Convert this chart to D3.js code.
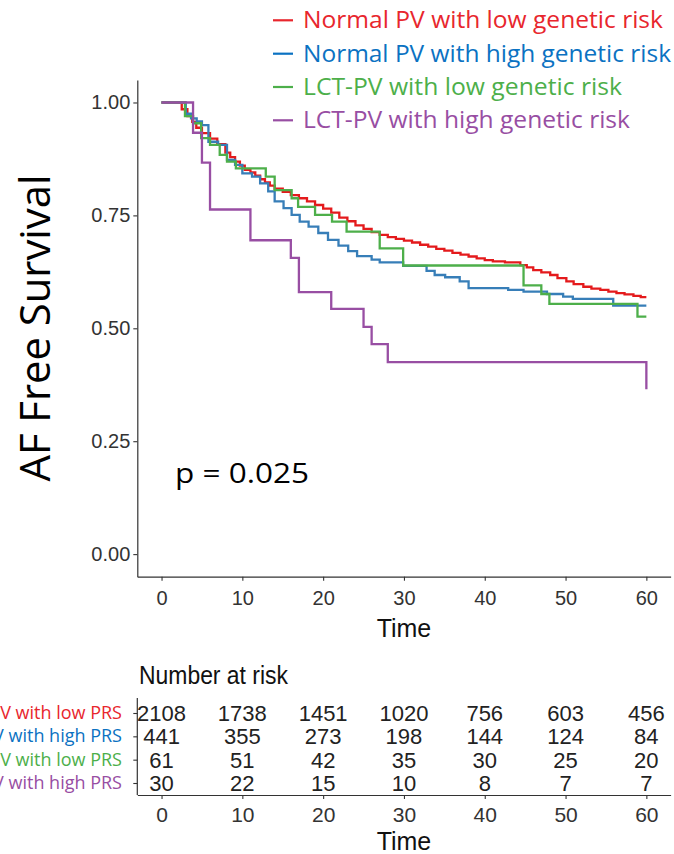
<!DOCTYPE html>
<html>
<head>
<meta charset="utf-8">
<script src="https://cdn.jsdelivr.net/npm/d3@7/dist/d3.min.js"></script>
<style>
  html, body { margin: 0; padding: 0; background: #fff; overflow: hidden; }
  svg { display: block; }
</style>
</head>
<body>
<svg id="chart" width="674" height="854"></svg>
<script>
// ---------------- DATA ----------------
const groupLegend = [
  "Normal PV with low genetic risk",
  "Normal PV with high genetic risk",
  "LCT-PV with low genetic risk",
  "LCT-PV with high genetic risk"
];
const groupTable = [
  "Normal PV with low PRS",
  "Normal PV with high PRS",
  "LCT-PV with low PRS",
  "LCT-PV with high PRS"
];
const timeTicks = [0, 10, 20, 30, 40, 50, 60];
const survTicks = [0, 0.25, 0.5, 0.75, 1.0];
const pValueText = "p = 0.025";

// Kaplan-Meier step points (time, survival)
const normalLowTimes = [0, 2.5, 3.2, 3.8, 4.3, 5.0, 6.0, 6.9, 7.9, 8.5, 9.1, 9.7, 10.3, 11.0, 11.6, 12.2, 12.8, 13.4, 14.0, 15.0, 16.0, 17.0, 18.0, 19.0, 20.0, 21.0, 22.0, 23.0, 24.0, 25.0, 26.0, 27.0, 28.0, 29.0, 30.0, 31.0, 32.0, 33.0, 34.0, 35.0, 36.0, 37.0, 38.0, 39.0, 40.0, 41.0, 42.5, 44.4, 45.2, 46.0, 47.0, 48.1, 49.0, 50.1, 51.0, 52.2, 53.2, 54.3, 55.3, 56.3, 57.3, 58.4, 59.3];
const normalLowSurv  = [1, 0.985, 0.970, 0.957, 0.944, 0.932, 0.920, 0.908, 0.889, 0.879, 0.869, 0.860, 0.851, 0.845, 0.838, 0.830, 0.823, 0.816, 0.809, 0.802, 0.795, 0.788, 0.781, 0.773, 0.765, 0.756, 0.745, 0.737, 0.728, 0.720, 0.713, 0.707, 0.702, 0.698, 0.694, 0.690, 0.685, 0.681, 0.676, 0.672, 0.667, 0.663, 0.659, 0.655, 0.651, 0.648, 0.646, 0.640, 0.635, 0.629, 0.624, 0.618, 0.611, 0.604, 0.598, 0.592, 0.588, 0.585, 0.581, 0.578, 0.575, 0.572, 0.569];

const normalHighTimes = [0, 3.0, 3.65, 4.35, 5.0, 5.8, 7.0, 8.1, 9.1, 10.0, 11.2, 12.2, 13.2, 14.0, 15.1, 16.1, 17.1, 18.2, 19.4, 20.6, 21.9, 23.1, 24.2, 26.0, 27.0, 29.9, 32.8, 33.8, 35.1, 36.9, 38.0, 42.9, 44.8, 47.7, 49.7, 50.9, 55.9];
const normalHighSurv  = [1, 0.975, 0.965, 0.958, 0.950, 0.913, 0.906, 0.873, 0.862, 0.843, 0.836, 0.821, 0.803, 0.781, 0.766, 0.751, 0.736, 0.725, 0.711, 0.696, 0.683, 0.671, 0.660, 0.652, 0.646, 0.638, 0.627, 0.618, 0.613, 0.604, 0.589, 0.585, 0.581, 0.576, 0.570, 0.565, 0.550];

const lctLowTimes = [0, 2.9, 3.9, 4.9, 6.0, 7.2, 8.1, 9.2, 12.9, 14.0, 16.1, 16.9, 19.0, 21.1, 22.9, 27.0, 29.9, 44.8, 47.0, 48.0, 58.9];
const lctLowSurv  = [1, 0.970, 0.954, 0.921, 0.906, 0.884, 0.869, 0.854, 0.836, 0.806, 0.788, 0.769, 0.751, 0.736, 0.714, 0.677, 0.639, 0.595, 0.576, 0.554, 0.526];

const lctHighTimes = [0, 3.9, 5.0, 6.0, 11.0, 16.0, 17.0, 21.0, 25.0, 26.0, 28.0, 60.0];
const lctHighSurv  = [1, 0.933, 0.867, 0.763, 0.695, 0.656, 0.580, 0.543, 0.503, 0.465, 0.425, 0.365];

// Number at risk
const riskNormalLow  = [2108, 1738, 1451, 1020, 756, 603, 456];
const riskNormalHigh = [441, 355, 273, 198, 144, 124, 84];
const riskLctLow     = [61, 51, 42, 35, 30, 25, 20];
const riskLctHigh    = [30, 22, 15, 10, 8, 7, 7];

// ---------------- STYLE ----------------
const lineColors = ["#E41A1C", "#377EB8", "#4DAF4A", "#984EA3"];
const textColors = ["#E8262D", "#0B72C2", "#4DAF4A", "#984EA3"];
const axisColor = "#333333";
const narrow = "'Liberation Sans Narrow', 'Arial Narrow', 'Liberation Sans', Arial, sans-serif";
const calib = "'Open Sans', 'Noto Sans', sans-serif";

const curves = [
  { times: normalLowTimes, surv: normalLowSurv },
  { times: normalHighTimes, surv: normalHighSurv },
  { times: lctLowTimes, surv: lctLowSurv },
  { times: lctHighTimes, surv: lctHighSurv }
];
const riskRows = [riskNormalLow, riskNormalHigh, riskLctLow, riskLctHigh];
const tMax = 60;

const svg = d3.select("#chart");

// scales (ggplot-style 5% expansion)
const x = d3.scaleLinear().domain([-3, 63]).range([137.3, 670.6]);
const y = d3.scaleLinear().domain([-0.05, 1.05]).range([576.7, 79.9]);

// ---------------- MAIN PLOT ----------------
const gMain = svg.append("g");

// y axis
const yAxis = d3.axisLeft(y).tickValues(survTicks).tickFormat(d3.format(".2f"))
  .tickSize(4).tickSizeOuter(0).tickPadding(3);
const gy = gMain.append("g").attr("transform", `translate(${x(-3)},0)`).call(yAxis);
gy.select(".domain").attr("stroke", axisColor).attr("stroke-width", 1.2);
gy.selectAll(".tick line").attr("stroke", axisColor).attr("stroke-width", 1.1);
gy.selectAll(".tick text").attr("fill", "#333").style("font-family", narrow).style("font-size", "20px");

// x axis
const xAxis = d3.axisBottom(x).tickValues(timeTicks).tickFormat(d3.format("d"))
  .tickSize(4).tickSizeOuter(0).tickPadding(10);
const gx = gMain.append("g").attr("transform", `translate(0,${y(-0.05)})`).call(xAxis);
gx.select(".domain").attr("stroke", axisColor).attr("stroke-width", 1.2);
gx.selectAll(".tick line").attr("stroke", axisColor).attr("stroke-width", 1.1);
gx.selectAll(".tick text").attr("fill", "#333").style("font-family", narrow).style("font-size", "20px");

gMain.append("text")
  .attr("x", x(30)).attr("y", 637)
  .attr("text-anchor", "middle")
  .style("font-family", narrow).style("font-size", "25px").attr("fill", "#111")
  .text("Time");

// y title
gMain.append("text")
  .attr("transform", `translate(50,${328}) rotate(-90)`)
  .attr("text-anchor", "middle")
  .attr("textLength", 307).attr("lengthAdjust", "spacingAndGlyphs")
  .style("font-family", calib).style("font-size", "42px").attr("fill", "#000")
  .text("AF Free Survival");

// curves
const line = d3.line()
  .x(d => x(d[0]))
  .y(d => y(d[1]))
  .curve(d3.curveStepAfter);

curves.forEach((c, i) => {
  const pts = c.times.map((t, k) => [t, c.surv[k]]);
  if (pts[pts.length - 1][0] < tMax) pts.push([tMax, pts[pts.length - 1][1]]);
  gMain.append("path")
    .datum(pts)
    .attr("fill", "none")
    .attr("stroke", lineColors[i])
    .attr("stroke-width", 2.3)
    .attr("d", line);
});

// p value
gMain.append("text")
  .attr("x", 175).attr("y", 483)
  .attr("textLength", 134).attr("lengthAdjust", "spacingAndGlyphs")
  .style("font-family", calib).style("font-size", "27px").attr("fill", "#000")
  .text(pValueText);

// legend
const legendBase = [28.3, 61.7, 95, 128.3];
const legendLen = [360, 368, 319, 327];
groupLegend.forEach((name, i) => {
  const g = svg.append("g");
  g.append("line")
    .attr("x1", 273).attr("x2", 293)
    .attr("y1", legendBase[i] - 8).attr("y2", legendBase[i] - 8)
    .attr("stroke", textColors[i]).attr("stroke-width", 2.2);
  g.append("text")
    .attr("x", 303).attr("y", legendBase[i])
    .attr("textLength", legendLen[i]).attr("lengthAdjust", "spacingAndGlyphs")
    .style("font-family", calib).style("font-size", "23px")
    .attr("fill", textColors[i])
    .text(name);
});

// ---------------- RISK TABLE ----------------
const gTab = svg.append("g");
const yRow = d3.scalePoint().domain(d3.range(4)).range([713, 783]);

gTab.append("text")
  .attr("x", 139).attr("y", 684)
  .attr("textLength", 149).attr("lengthAdjust", "spacingAndGlyphs")
  .style("font-family", narrow).style("font-size", "25px").attr("fill", "#111")
  .text("Number at risk");

const tabYAxis = d3.axisLeft(yRow).tickSize(4).tickSizeOuter(0).tickFormat("");
const gty = gTab.append("g").attr("transform", `translate(${x(-3)},0)`).call(tabYAxis);
gty.select(".domain").attr("d", `M-0,698V795`).attr("stroke", axisColor).attr("stroke-width", 1.2);
gty.selectAll(".tick line").attr("stroke", axisColor).attr("stroke-width", 1.1);

const xAxisTab = d3.axisBottom(x).tickValues(timeTicks).tickFormat(d3.format("d"))
  .tickSize(4).tickSizeOuter(0).tickPadding(8);
const gtx = gTab.append("g").attr("transform", "translate(0,795)").call(xAxisTab);
gtx.select(".domain").attr("stroke", axisColor).attr("stroke-width", 1.2);
gtx.selectAll(".tick line").attr("stroke", axisColor).attr("stroke-width", 1.1);
gtx.selectAll(".tick text").attr("fill", "#333").style("font-family", narrow).style("font-size", "21px");

gTab.append("text")
  .attr("x", x(30)).attr("y", 850)
  .attr("text-anchor", "middle")
  .style("font-family", narrow).style("font-size", "25px").attr("fill", "#111")
  .text("Time");

groupTable.forEach((name, i) => {
  gTab.append("text")
    .attr("x", 122).attr("y", yRow(i) + 6)
    .attr("text-anchor", "end")
    .style("font-family", calib).style("font-size", "18px")
    .attr("fill", textColors[i])
    .text(name);
  riskRows[i].forEach((v, k) => {
    gTab.append("text")
      .attr("x", x(timeTicks[k])).attr("y", yRow(i) + 8)
      .attr("text-anchor", "middle")
      .style("font-family", narrow).style("font-size", "22px")
      .attr("fill", "#222")
      .text(v);
  });
});
</script>
</body>
</html>
